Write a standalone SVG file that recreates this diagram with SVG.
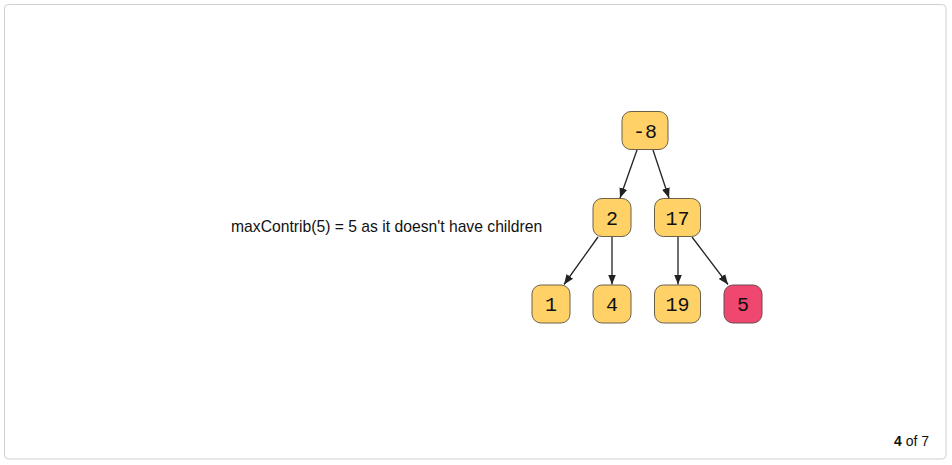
<svg xmlns="http://www.w3.org/2000/svg" width="952" height="465" viewBox="0 0 952 465">
<style>
.node rect{fill:#FFD166;stroke:#6b6148;stroke-width:1}
.node.hl rect{fill:#EF476F;stroke:#6b4a50}
.node text{font-family:"Liberation Mono","Courier New",monospace;font-size:20px;fill:#111;text-anchor:middle}
.edge{stroke:#222;stroke-width:1.3;fill:none;marker-end:url(#arr)}
.lbl{font-family:"Liberation Sans",Arial,sans-serif;font-size:15.7px;fill:#111}
.pg{font-family:"Liberation Sans",Arial,sans-serif;font-size:14px;fill:#111}
</style>
<defs>
<marker id="arr" markerWidth="10" markerHeight="10" viewBox="0 0 10 10" refX="10" refY="5" orient="auto" markerUnits="userSpaceOnUse">
<path d="M0,1 L10,5 L0,9 z" fill="#222"/>
</marker>
</defs>
<rect x="4.5" y="4.5" width="941.5" height="454.5" rx="4" fill="#fff" stroke="#d0d0d0"/>
<g id="connectors">
<line class="edge" x1="637" y1="150" x2="620" y2="198"/>
<line class="edge" x1="653" y1="150" x2="669" y2="198"/>
<line class="edge" x1="598" y1="237" x2="564" y2="284.5"/>
<line class="edge" x1="612" y1="237" x2="612" y2="284.5"/>
<line class="edge" x1="678" y1="237" x2="678" y2="284.5"/>
<line class="edge" x1="692" y1="237" x2="728" y2="284.5"/>
</g>
<g id="n-8" class="node"><rect x="622" y="111.5" width="46" height="38" rx="9"/><text x="645" y="137.5">-8</text></g>
<g id="n2" class="node"><rect x="593" y="198.5" width="38" height="38" rx="9"/><text x="612" y="224.5">2</text></g>
<g id="n17" class="node"><rect x="654.5" y="198.5" width="46" height="38" rx="9"/><text x="677.5" y="224.5">17</text></g>
<g id="n1" class="node"><rect x="532" y="285" width="38" height="38" rx="9"/><text x="551" y="311">1</text></g>
<g id="n4" class="node"><rect x="593" y="285" width="38" height="38" rx="9"/><text x="612" y="311">4</text></g>
<g id="n19" class="node"><rect x="654.5" y="285" width="46" height="38" rx="9"/><text x="677.5" y="311">19</text></g>
<g id="n5" class="node hl"><rect x="724" y="285" width="38" height="38" rx="9"/><text x="743" y="311">5</text></g>
<text class="lbl" x="231" y="231.5">maxContrib(5) = 5 as it doesn't have children</text>
<text class="pg" x="894" y="446"><tspan font-weight="bold">4</tspan> of 7</text>
</svg>
